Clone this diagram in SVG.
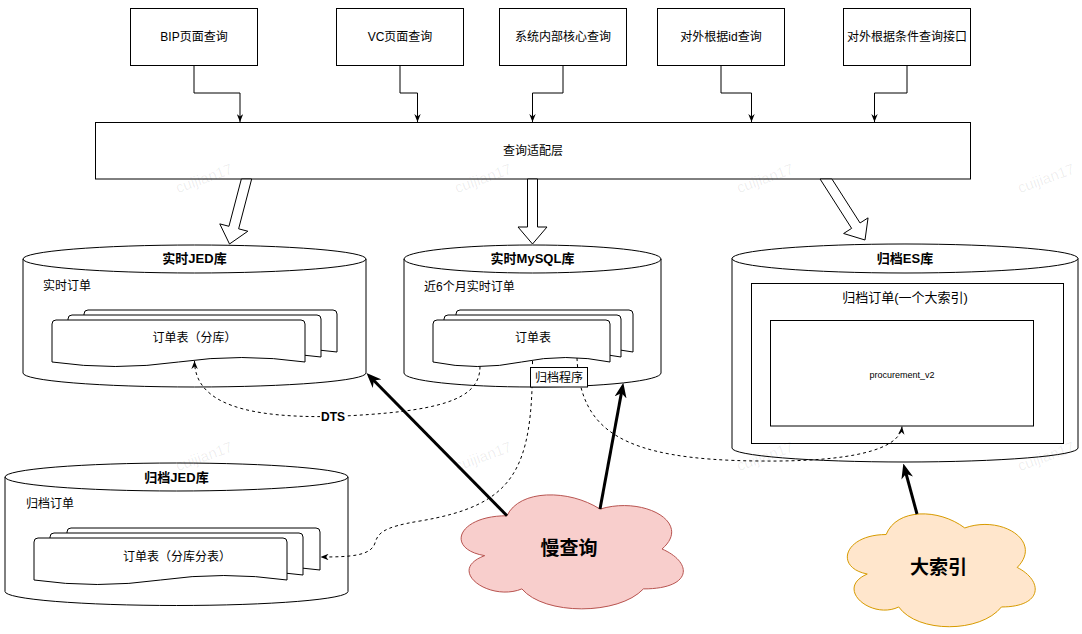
<svg xmlns="http://www.w3.org/2000/svg" width="1082" height="634" viewBox="0 0 1082 634">
<defs>
<style>
text{font-family:"Liberation Sans","Noto Sans CJK SC",sans-serif;font-size:12px;fill:#000;}
.c{text-anchor:middle;dominant-baseline:central;}
.l{dominant-baseline:central;}
.t{font-size:13px;font-weight:bold;}
.cl{font-size:19px;font-weight:bold;}
.box{fill:#fff;stroke:#000;stroke-width:1;}
.ln{fill:none;stroke:#000;stroke-width:1;}
.dash{fill:none;stroke:#000;stroke-width:1;stroke-dasharray:3 3;}
.thick{fill:none;stroke:#000;stroke-width:3;}
.blk{fill:#fff;stroke:#000;stroke-width:1;}
.wm{font-size:15px;fill:#000;fill-opacity:0.07;}
</style>
<marker id="a" viewBox="0 0 10 8" refX="10" refY="4" markerWidth="8" markerHeight="6.4" markerUnits="userSpaceOnUse" orient="auto"><path d="M0,0 L10,4 L0,8 L3,4 Z" fill="#000"/></marker>
<marker id="b" viewBox="0 0 10 8" refX="7" refY="4" markerWidth="15" markerHeight="12" markerUnits="userSpaceOnUse" orient="auto"><path d="M0,0 L10,4 L0,8 L3,4 Z" fill="#000"/></marker>
</defs>
<rect width="1082" height="634" fill="#fff"/>

<g id="q-bip"><rect class="box" x="130.5" y="8.5" width="127" height="57"/><text class="c" x="194" y="36.5">BIP页面查询</text></g>
<g id="q-vc"><rect class="box" x="336.5" y="8.5" width="127" height="57"/><text class="c" x="400" y="36.5">VC页面查询</text></g>
<g id="q-core"><rect class="box" x="499.5" y="8.5" width="127" height="57"/><text class="c" x="563" y="36.5">系统内部核心查询</text></g>
<g id="q-id"><rect class="box" x="657.5" y="8.5" width="127" height="57"/><text class="c" x="721" y="36.5">对外根据id查询</text></g>
<g id="q-cond"><rect class="box" x="843.5" y="8.5" width="127" height="57"/><text class="c" x="907" y="36.5">对外根据条件查询接口</text></g>

<g id="adapter"><rect class="box" x="95.5" y="122.5" width="875" height="56.5"/><text class="c" x="533" y="150.5">查询适配层</text></g>

<g id="db-jed">
<path class="box" d="M23,259 A171.5,14 0 0 1 366,259 L366,373 A171.5,14 0 0 1 23,373 Z"/>
<path class="ln" d="M23,259 A171.5,14 0 0 0 366,259"/>
<text class="c t" x="194.5" y="258.5">实时JED库</text>
<text class="l" x="43" y="286">实时订单</text>
<path class="box" d="M84,314 Q84,310 88,310 L333,310 Q337,310 337,314 L337,352 Q273.75,343 210.5,352 Q147.25,361 84,352 Z"/>
<path class="box" d="M68,319 Q68,315 72,315 L317,315 Q321,315 321,319 L321,357 Q257.75,348 194.5,357 Q131.25,366 68,357 Z"/>
<path class="box" d="M52,324 Q52,320 56,320 L301,320 Q305,320 305,324 L305,362 Q241.75,353 178.5,362 Q115.25,371 52,362 Z"/>
<text class="c" x="194.5" y="338">订单表（分库）</text>
</g>

<g id="db-mysql">
<path class="box" d="M404,259 A128.5,14 0 0 1 661,259 L661,373 A128.5,14 0 0 1 404,373 Z"/>
<path class="ln" d="M404,259 A128.5,14 0 0 0 661,259"/>
<text class="c t" x="532.5" y="258.5">实时MySQL库</text>
<text class="l" x="424" y="287">近6个月实时订单</text>
<path class="box" d="M456,314 Q456,310 460,310 L629,310 Q633,310 633,314 L633,352 Q588.75,343 544.5,352 Q500.25,361 456,352 Z"/>
<path class="box" d="M444,319 Q444,315 448,315 L617,315 Q621,315 621,319 L621,357 Q576.75,348 532.5,357 Q488.25,366 444,357 Z"/>
<path class="box" d="M433,324 Q433,320 437,320 L606,320 Q610,320 610,324 L610,362 Q565.75,353 521.5,362 Q477.25,371 433,362 Z"/>
<text class="c" x="533" y="338">订单表</text>
</g>

<g id="db-es">
<path class="box" d="M732,258.5 A173,14.5 0 0 1 1078,258.5 L1078,448 A173,14 0 0 1 732,448 Z"/>
<path class="ln" d="M732,258.5 A173,14.5 0 0 0 1078,258.5"/>
<text class="c t" x="905" y="258.5">归档ES库</text>
<rect class="box" x="751.5" y="283.5" width="312" height="160"/>
<text class="c" x="905" y="297" style="font-size:13px">归档订单(一个大索引)</text>
<rect class="box" x="770.5" y="320.5" width="263" height="105.5"/>
<text class="c" x="902" y="375" style="font-size:9px">procurement_v2</text>
</g>

<g id="db-archive-jed">
<path class="box" d="M5,477 A171.5,14 0 0 1 348,477 L348,591.5 A171.5,14 0 0 1 5,591.5 Z"/>
<path class="ln" d="M5,477 A171.5,14 0 0 0 348,477"/>
<text class="c t" x="176.5" y="477">归档JED库</text>
<text class="l" x="26" y="504">归档订单</text>
<path class="box" d="M67,532 Q67,528 71,528 L316,528 Q320,528 320,532 L320,570 Q256.75,561 193.5,570 Q130.25,579 67,570 Z"/>
<path class="box" d="M50,537 Q50,533 54,533 L299,533 Q303,533 303,537 L303,575 Q239.75,566 176.5,575 Q113.25,584 50,575 Z"/>
<path class="box" d="M34,542 Q34,538 38,538 L283,538 Q287,538 287,542 L287,580 Q223.75,571 160.5,580 Q97.25,589 34,580 Z"/>
<text class="c" x="177" y="557">订单表（分库分表）</text>
</g>

<g id="slow-query">
<path d="M507,515.75 C457.4,515.75 445,549 484.68,555.65 C445,570.28 489.64,602.2 521.88,588.9 C544.2,615.5 618.6,615.5 643.4,588.9 C693,588.9 693,562.3 662,549 C693,522.4 643.4,495.8 600,509.1 C569,489.15 519.4,489.15 507,515.75 Z" fill="#f8cecc" stroke="#b85450" stroke-width="1"/>
<text class="c cl" x="569" y="548">慢查询</text>
</g>

<g id="big-index">
<path d="M886.13,534.53 C844.19,534.53 833.7,567.45 867.25,574.04 C833.7,588.52 871.45,620.13 898.71,606.96 C917.58,633.3 980.49,633.3 1001.46,606.96 C1043.4,606.96 1043.4,580.62 1017.19,567.45 C1043.4,541.11 1001.46,514.77 964.76,527.94 C938.55,508.19 896.61,508.19 886.13,534.53 Z" fill="#ffe6cc" stroke="#d79b00" stroke-width="1"/>
<text class="c cl" x="938.5" y="567.5">大索引</text>
</g>

<g id="connectors">
<path class="ln" d="M194,65 V93 H240 V122" marker-end="url(#a)"/>
<path class="ln" d="M400,65 V93 H417.5 V122" marker-end="url(#a)"/>
<path class="ln" d="M563,65 V93 H532.5 V122" marker-end="url(#a)"/>
<path class="ln" d="M721,65 V93 H751.5 V122" marker-end="url(#a)"/>
<path class="ln" d="M907,65 V93 H874.5 V122" marker-end="url(#a)"/>
<polygon class="blk" points="241.33,179 251.67,179 238.64,228.82 247.83,231.22 229.5,244 219.77,223.88 228.96,226.29"/>
<polygon class="blk" points="527.5,179 537.5,179 537.5,227 547,227 532.5,244 518,227 527.5,227"/>
<polygon class="blk" points="820.07,179 831.93,179 860.05,222.99 868.06,217.87 865,240 843.62,233.49 851.63,228.37"/>
<path class="dash" d="M480,366.5 C480,400 440,412 333,416.5 C250,418 195,405 194.5,361" marker-end="url(#a)"/>
<rect x="320" y="410" width="27" height="13" fill="#fff"/>
<text class="c" x="333" y="416.5" style="font-weight:bold">DTS</text>
<path class="dash" d="M532.5,361 C532.5,470 515,505 420,521 C383,527 378,533 375,543 C371,556 350,557 320.5,557" marker-end="url(#a)"/>
<path class="dash" d="M577,358 C580,430 620,460 760,461 C850,462 900,450 902,426.5" marker-end="url(#a)"/>
<path class="thick" d="M507,515.75 L369.65,376.2" marker-end="url(#b)"/>
<path class="thick" d="M600,509.1 L622.5,387.1" marker-end="url(#b)"/>
<path class="thick" d="M917,514 L904.5,467.9" marker-end="url(#b)"/>
</g>

<g id="archiver"><rect class="box" x="530.5" y="367.5" width="57" height="19.5"/><text class="c" x="559" y="377.5">归档程序</text></g>

<g id="watermarks">
<text class="c wm" transform="translate(204,178) rotate(-20)">cuijian17</text>
<text class="c wm" transform="translate(483,178) rotate(-20)">cuijian17</text>
<text class="c wm" transform="translate(765,178) rotate(-20)">cuijian17</text>
<text class="c wm" transform="translate(1046,178) rotate(-20)">cuijian17</text>
<text class="c wm" transform="translate(204,456) rotate(-20)">cuijian17</text>
<text class="c wm" transform="translate(483,456) rotate(-20)">cuijian17</text>
<text class="c wm" transform="translate(765,456) rotate(-20)">cuijian17</text>
<text class="c wm" transform="translate(1046,456) rotate(-20)">cuijian17</text>
</g>
</svg>
